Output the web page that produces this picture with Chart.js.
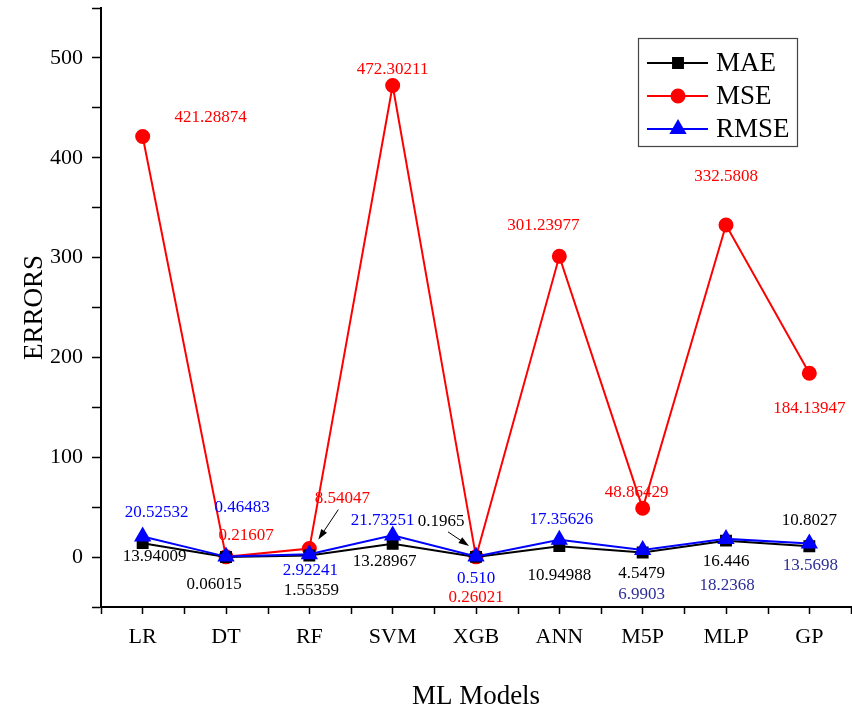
<!DOCTYPE html>
<html>
<head>
<meta charset="utf-8">
<title>ERRORS por modelo</title>
<script src="https://cdn.jsdelivr.net/npm/chart.js@4.4.1/dist/chart.umd.min.js"></script>
<style>
    body { margin: 0; background: #fff; }
    #wrap { width: 852px; height: 713px; }
</style>
</head>
<body>
<div id="wrap"><canvas id="graficoErros" width="852" height="713"></canvas></div>
<script>
// valores dos erros por modelo (texto = o que aparece no rótulo)
const modelos = ['LR', 'DT', 'RF', 'SVM', 'XGB', 'ANN', 'M5P', 'MLP', 'GP'];
const mae  = ['13.94009', '0.06015', '1.55359', '13.28967', '0.1965', '10.94988', '4.5479', '16.446', '10.8027'];
const mse  = ['421.28874', '0.21607', '8.54047', '472.30211', '0.26021', '301.23977', '48.86429', '332.5808', '184.13947'];
const rmse = ['20.52532', '0.46483', '2.92241', '21.73251', '0.510', '17.35626', '6.9903', '18.2368', '13.5698'];
const yMin = -50;
const yMax = 550;

const FONTE = '"Liberation Serif", "Times New Roman", serif';

// deslocamento (px) de cada rótulo em relação ao ponto
const rotulos = [
    { dataset: 0, textos: mae, cor: '#000000',
      offsets: [[12, 13], [-12, 28], [2, 35], [-8, 18], [-35, -35], [0, 29], [-1, 21], [0, 21], [0, -26]] },
    { dataset: 1, textos: mse, cor: '#ff0000',
      offsets: [[68, -19], [20, -21], [33, -50], [0, -16], [0, 41], [-16, -31], [-6, -16], [0, -49], [0, 35]] },
    { dataset: 2, textos: rmse,
      cores: ['#0000ff', '#0000ff', '#0000ff', '#0000ff', '#0000ff', '#0000ff', '#2e2e9a', '#2e2e9a', '#2e2e9a'],
      offsets: [[14, -24], [16, -49], [1, 16], [-10, -15], [0, 22], [2, -20], [-1, 44], [1, 47], [1, 22]] }
];

// setas: [dataset, índice, x0, y0, x1, y1] relativos ao ponto
const setas = [
    [1, 2, 29, -39, 9, -9],
    [0, 4, -28, -25, -7, -11]
];

function desenhaSeta(ctx, x0, y0, x1, y1) {
    const ang = Math.atan2(y1 - y0, x1 - x0);
    const tam = 11;
    ctx.beginPath();
    ctx.moveTo(x0, y0);
    ctx.lineTo(x1 - Math.cos(ang) * tam * 0.8, y1 - Math.sin(ang) * tam * 0.8);
    ctx.stroke();
    ctx.beginPath();
    ctx.moveTo(x1, y1);
    ctx.lineTo(x1 - tam * Math.cos(ang - 0.32), y1 - tam * Math.sin(ang - 0.32));
    ctx.lineTo(x1 - tam * Math.cos(ang + 0.32), y1 - tam * Math.sin(ang + 0.32));
    ctx.closePath();
    ctx.fill();
}

const rotulosPlugin = {
    id: 'rotulos',
    afterDatasetsDraw(chart) {
        const ctx = chart.ctx;
        ctx.save();
        ctx.font = '17px ' + FONTE;
        ctx.textAlign = 'center';
        ctx.textBaseline = 'middle';
        rotulos.forEach(r => {
            const meta = chart.getDatasetMeta(r.dataset);
            meta.data.forEach((pt, i) => {
                const [dx, dy] = r.offsets[i];
                ctx.fillStyle = r.cores ? r.cores[i] : r.cor;
                ctx.fillText(r.textos[i], pt.x + dx, pt.y + dy);
            });
        });
        ctx.strokeStyle = '#000';
        ctx.fillStyle = '#000';
        ctx.lineWidth = 1;
        setas.forEach(([ds, i, x0, y0, x1, y1]) => {
            const pt = chart.getDatasetMeta(ds).data[i];
            desenhaSeta(ctx, pt.x + x0, pt.y + y0, pt.x + x1, pt.y + y1);
        });
        ctx.restore();
    }
};

// ticks menores do eixo x (entre categorias) e a legenda em caixa
const extrasPlugin = {
    id: 'extras',
    afterDraw(chart) {
        const ctx = chart.ctx;
        const area = chart.chartArea;
        const n = modelos.length;
        const passo = (area.right - area.left) / n;
        ctx.save();
        ctx.strokeStyle = '#000';
        ctx.lineWidth = 1.5;
        for (let k = 0; k <= n; k++) {
            const x = Math.round(area.left + k * passo) + 0.5;
            ctx.beginPath();
            ctx.moveTo(x, area.bottom);
            ctx.lineTo(x, area.bottom + 7);
            ctx.stroke();
        }

        // legenda
        const lx = 638, ly = 38, lw = 159, lh = 108;
        ctx.lineWidth = 1.2;
        ctx.strokeStyle = '#444';
        ctx.fillStyle = '#fff';
        ctx.fillRect(lx, ly, lw, lh);
        ctx.strokeRect(lx + 0.5, ly + 0.5, lw, lh);
        ctx.font = '27px ' + FONTE;
        ctx.textBaseline = 'middle';
        ctx.textAlign = 'left';
        chart.data.datasets.forEach((ds, i) => {
            const y = 63 + i * 33;
            ctx.strokeStyle = ds.borderColor;
            ctx.lineWidth = 2;
            ctx.beginPath();
            ctx.moveTo(647, y);
            ctx.lineTo(708, y);
            ctx.stroke();
            ctx.fillStyle = ds.pointBackgroundColor;
            Chart.helpers.drawPoint(ctx, {
                pointStyle: ds.pointStyle, radius: ds.pointRadius, rotation: 0, borderWidth: 1
            }, 678, y);
            ctx.fillStyle = '#000';
            ctx.fillText(ds.label, 716, y + 1);
        });
        ctx.restore();
    }
};

const ctx = document.getElementById('graficoErros').getContext('2d');
new Chart(ctx, {
    type: 'line',
    data: {
        labels: modelos,
        datasets: [
            {
                label: 'MAE', data: mae.map(Number), order: 1,
                borderColor: '#000000', backgroundColor: '#000000',
                pointBackgroundColor: '#000000', pointBorderColor: '#000000',
                pointStyle: 'rect', pointRadius: 7, borderWidth: 2, tension: 0
            },
            {
                label: 'MSE', data: mse.map(Number), order: 2,
                borderColor: '#ff0000', backgroundColor: '#ff0000',
                pointBackgroundColor: '#ff0000', pointBorderColor: '#ff0000',
                pointStyle: 'circle', pointRadius: 6.5, borderWidth: 2, tension: 0
            },
            {
                label: 'RMSE', data: rmse.map(Number), order: 0,
                borderColor: '#0000ff', backgroundColor: '#0000ff',
                pointBackgroundColor: '#0000ff', pointBorderColor: '#0000ff',
                pointStyle: 'triangle', pointRadius: 8, borderWidth: 2, tension: 0
            }
        ]
    },
    options: {
        responsive: false,
        animation: false,
        events: [],
        layout: { autoPadding: false, padding: { top: 8, right: 1, left: 0, bottom: 0 } },
        plugins: { legend: { display: false }, tooltip: { enabled: false } },
        scales: {
            x: {
                offset: true,
                afterFit(scale) { scale.height = 106; },
                grid: { drawOnChartArea: false, offset: false, tickLength: 7, tickWidth: 1.5, tickColor: '#000' },
                border: { color: '#000', width: 2 },
                ticks: { color: '#000', font: { family: FONTE, size: 22 }, padding: 10, maxRotation: 0 },
                title: { display: true, text: 'ML Models', color: '#000',
                         font: { family: FONTE, size: 27 }, padding: { top: 0, bottom: 0 } }
            },
            y: {
                min: yMin, max: yMax,
                afterFit(scale) {
                    scale.width = 101;
                    scale.paddingTop = 0;
                    scale.paddingBottom = 0;
                },
                grid: { drawOnChartArea: false, tickLength: 9, tickWidth: 1.5, tickColor: '#000' },
                border: { color: '#000', width: 2 },
                ticks: {
                    stepSize: 50, color: '#000', padding: 9, autoSkip: false,
                    font: { family: FONTE, size: 22 },
                    callback: v => (v % 100 === 0 && v >= 0 && v <= 500) ? v : ''
                },
                title: { display: true, text: 'ERRORS', color: '#000',
                         font: { family: FONTE, size: 27 }, padding: { top: 19, bottom: 0 } }
            }
        }
    },
    plugins: [rotulosPlugin, extrasPlugin]
});
</script>
</body>
</html>
